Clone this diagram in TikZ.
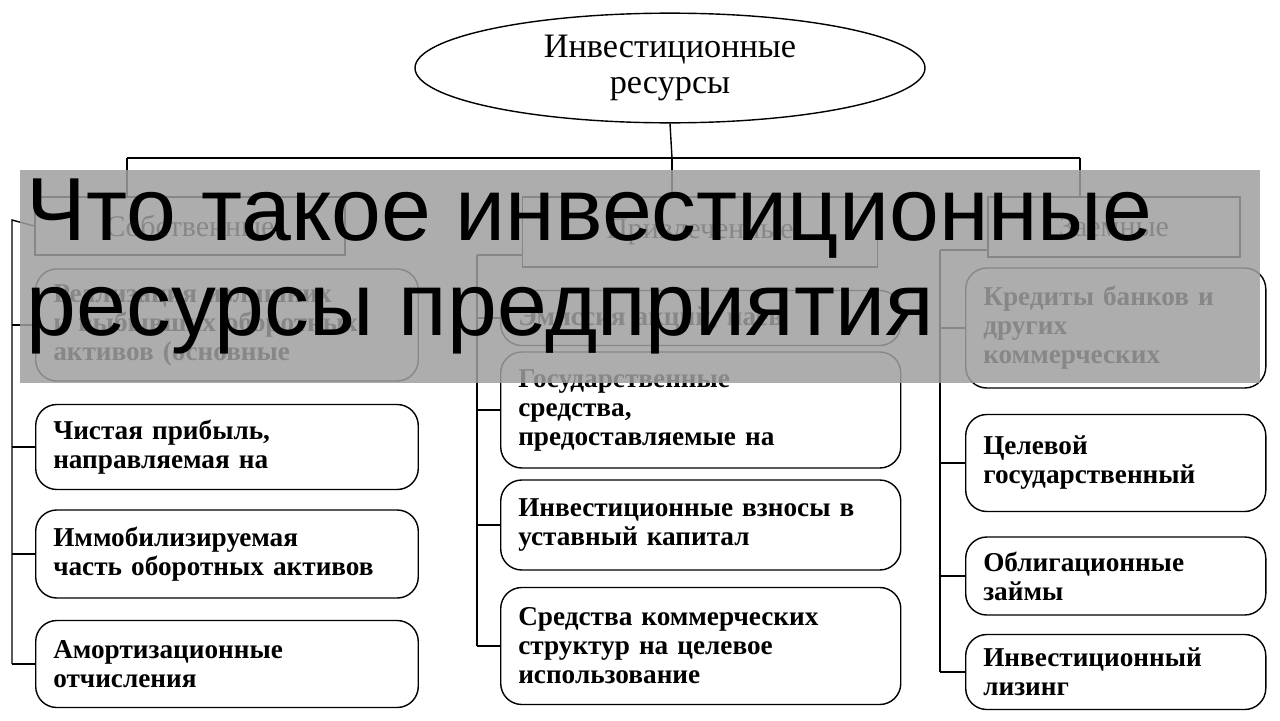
\documentclass[tikz,border=0pt]{standalone}
\usepackage{fontspec}
\setmainfont{Liberation Serif}
\newfontfamily\bannerfont{Liberation Sans}
\usetikzlibrary{shapes.geometric}
\tikzset{
  res/.style={draw, thick, rounded corners=12pt, text width=#1, align=left, inner xsep=10pt, inner ysep=4pt, font=\fontsize{15.5}{16.5}\selectfont\bfseries},
  head/.style={draw, thick, font=\fontsize{17}{18}\selectfont},
}
\begin{document}
\begin{tikzpicture}[x=0.02cm, y=-0.02cm, line width=0.8pt]
\useasboundingbox (0,0) rectangle (1280,720);
% top
\node[draw, thick, ellipse, minimum width=510*0.02cm, minimum height=100*0.02cm, align=center,
  font=\fontsize{19.5}{20.5}\selectfont] (top) at (670,68) {Инвестиционные\\ресурсы};
\coordinate (tl) at (127,158); \coordinate (tr) at (1080,158); \coordinate (tm) at (672,158);
\draw (top.south) -- (tm);
\draw (tl) -- (tr);
% group headers
\node[head, minimum width=310*0.02cm, minimum height=58*0.02cm] (own) at (190,226) {Собственные};
\node[head, minimum width=355*0.02cm, minimum height=70*0.02cm] (att) at (700,232) {Привлеченные};
\node[head, minimum width=252*0.02cm, minimum height=60*0.02cm] (brw) at (1114,227) {Заемные};
\draw (tl) -- (tl |- own.north);
\draw (tm) -- (tm |- att.north);
\draw (tr) -- (tr |- brw.north);
% own resources
\node[res=6.95cm, minimum height=112*0.02cm, anchor=west] (o1) at (35,325) {Реализация излишних\\и выбывших оборотных\\активов (основные};
\node[res=6.95cm, minimum height=85*0.02cm, anchor=west] (o2) at (35,447) {Чистая прибыль,\\направляемая на};
\node[res=6.95cm, minimum height=88*0.02cm, anchor=west] (o3) at (35,554) {Иммобилизируемая\\часть оборотных активов};
\node[res=6.95cm, minimum height=87*0.02cm, anchor=west] (o4) at (35,664) {Амортизационные\\отчисления};
\coordinate (ls) at (12,220);
\draw (own.west) -- (ls) -- (ls |- o4);
\foreach \b in {o1,o2,o3,o4} \draw (ls |- \b) -- (\b.west);
% attracted resources
\node[res=7.3cm, minimum height=55*0.02cm, anchor=west] (a1) at (500,318) {Эмиссия акций, паев};
\node[res=7.3cm, minimum height=116*0.02cm, anchor=west] (a2) at (500,410) {Государственные\\средства,\\предоставляемые на};
\node[res=7.3cm, minimum height=90*0.02cm, anchor=west] (a3) at (500,525) {Инвестиционные взносы в\\уставный капитал};
\node[res=7.3cm, minimum height=117*0.02cm, anchor=west] (a4) at (500,646) {Средства коммерческих\\структур на целевое\\использование};
\coordinate (ms) at (477,255);
\draw (ms) -- (ms |- a4);
\draw (ms) -- (ms -| att.west);
\foreach \b in {a1,a2,a3,a4} \draw (ms |- \b) -- (\b.west);
% borrowed resources
\node[res=5.3cm, minimum height=120*0.02cm, anchor=west] (b1) at (965,328) {Кредиты банков и\\других\\коммерческих};
\node[res=5.3cm, minimum height=97*0.02cm, anchor=west] (b2) at (965,463) {Целевой\\государственный};
\node[res=5.3cm, minimum height=78*0.02cm, anchor=west] (b3) at (965,576) {Облигационные\\займы};
\node[res=5.3cm, minimum height=75*0.02cm, anchor=west] (b4) at (965,672) {Инвестиционный\\лизинг};
\coordinate (rs) at (940,250);
\draw (rs) -- (rs |- b4);
\draw (rs) -- (rs -| brw.west);
\foreach \b in {b1,b2,b3,b4} \draw (rs |- \b) -- (\b.west);
% banner
\fill[gray!75, opacity=0.85] (20,170) rectangle (1260,383);
\node[anchor=north west, align=left, inner sep=0pt, font=\bannerfont\fontsize{51}{54}\selectfont] (title) at (26,178)
  {Что такое инвестиционные\\ресурсы предприятия};
\end{tikzpicture}
\end{document}
